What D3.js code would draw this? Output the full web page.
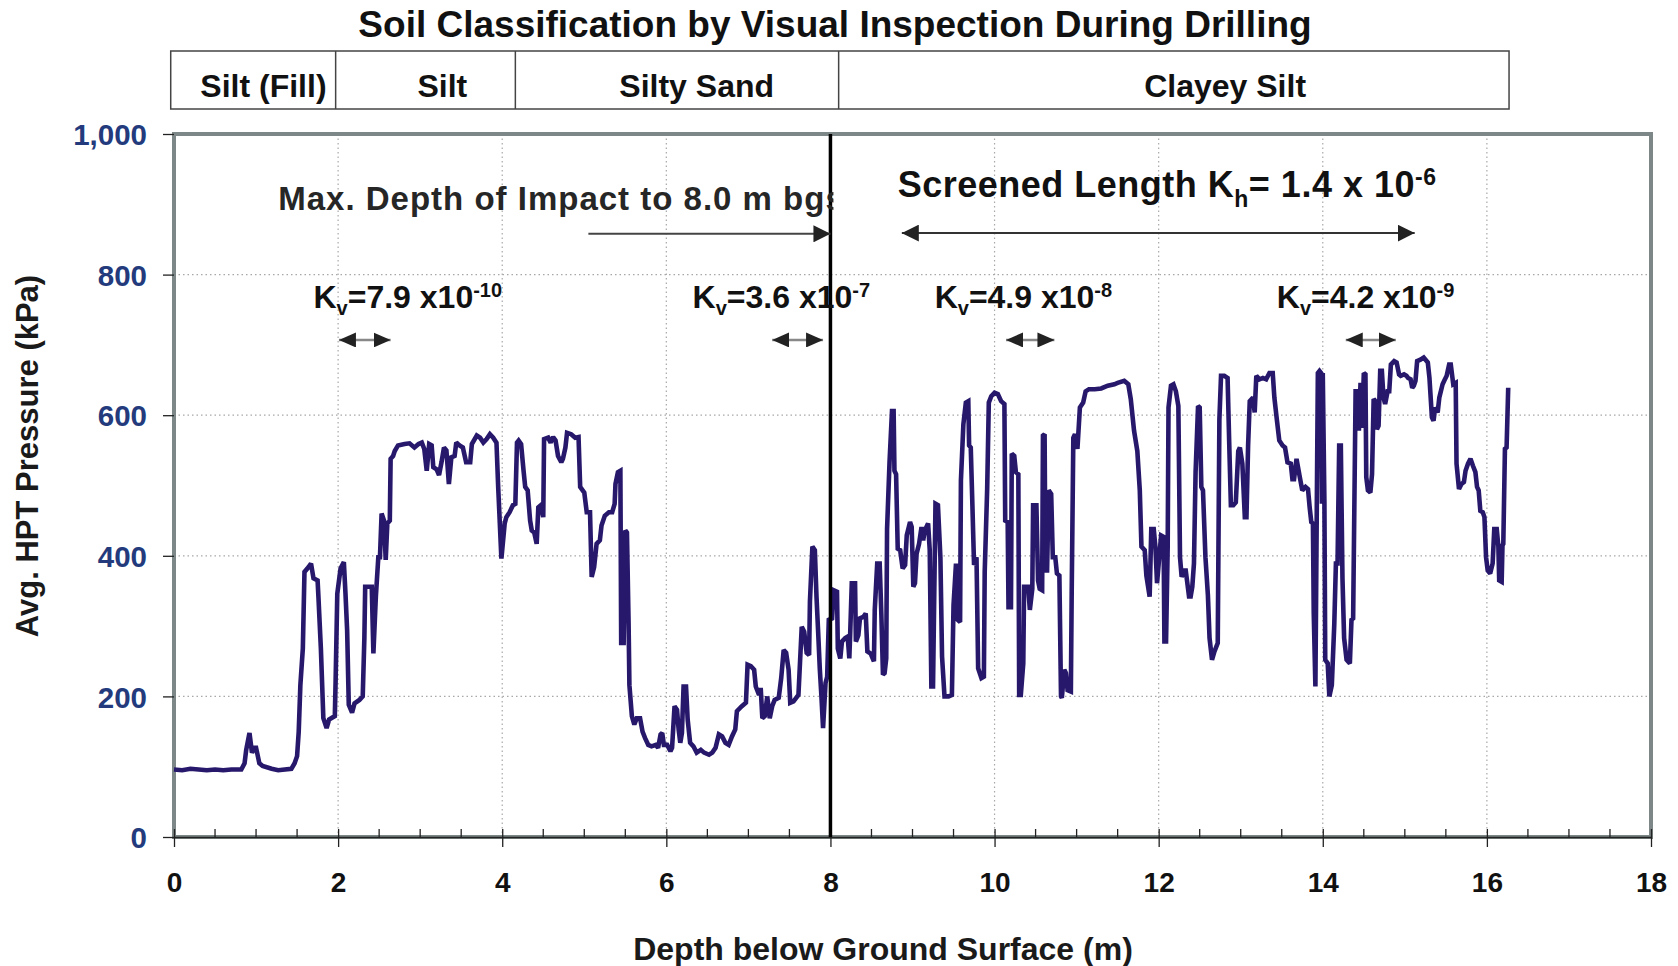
<!DOCTYPE html>
<html>
<head>
<meta charset="utf-8">
<script src="https://cdn.jsdelivr.net/npm/d3@7"></script>
<style>
  body { margin: 0; background: #fff; }
  text { font-family: "Liberation Sans", Arial, sans-serif; font-weight: bold; }
</style>
</head>
<body>
<div id="chart"></div>
<script>
// HPT log, depth (m) vs average pressure (kPa)
const depth = [
  0.00,0.10,0.20,0.30,0.40,0.50,0.60,0.70,0.82,0.86,0.88,0.92,0.95,0.98,1.00,1.04,1.08,1.19,1.27,1.43,
  1.47,1.50,1.52,1.54,1.57,1.59,1.64,1.67,1.70,1.75,1.76,1.79,1.82,1.86,1.89,1.96,1.97,1.99,2.03,2.07,
  2.09,2.11,2.13,2.17,2.20,2.26,2.30,2.32,2.33,2.41,2.43,2.46,2.49,2.51,2.53,2.56,2.58,2.60,2.63,2.64,
  2.67,2.69,2.73,2.81,2.87,2.93,2.98,3.02,3.05,3.08,3.11,3.14,3.16,3.20,3.23,3.26,3.29,3.32,3.35,3.38,
  3.42,3.44,3.48,3.52,3.56,3.61,3.63,3.69,3.73,3.77,3.81,3.85,3.89,3.93,3.95,3.99,4.03,4.05,4.09,4.13,
  4.16,4.18,4.20,4.23,4.26,4.28,4.31,4.34,4.36,4.39,4.42,4.44,4.47,4.50,4.51,4.56,4.59,4.62,4.65,4.68,
  4.72,4.74,4.77,4.79,4.84,4.89,4.93,4.95,5.00,5.03,5.07,5.09,5.12,5.15,5.19,5.21,5.25,5.30,5.34,5.37,
  5.38,5.41,5.44,5.45,5.48,5.50,5.52,5.54,5.55,5.58,5.61,5.64,5.68,5.71,5.74,5.78,5.82,5.87,5.90,5.93,
  5.95,5.97,6.01,6.05,6.07,6.10,6.13,6.15,6.17,6.19,6.21,6.24,6.26,6.29,6.33,6.37,6.42,6.46,6.52,6.56,
  6.60,6.64,6.68,6.72,6.76,6.80,6.84,6.86,6.92,6.97,6.99,7.03,7.07,7.09,7.13,7.15,7.17,7.20,7.23,7.26,
  7.29,7.32,7.37,7.40,7.43,7.46,7.49,7.51,7.55,7.61,7.65,7.68,7.71,7.74,7.75,7.78,7.81,7.83,7.85,7.87,
  7.89,7.91,7.94,7.96,7.98,8.02,8.04,8.08,8.09,8.12,8.14,8.18,8.21,8.23,8.24,8.26,8.30,8.31,8.34,8.36,
  8.40,8.43,8.45,8.49,8.53,8.54,8.57,8.60,8.62,8.64,8.66,8.68,8.69,8.72,8.75,8.77,8.78,8.80,8.82,8.85,
  8.88,8.91,8.93,8.97,8.99,9.01,9.03,9.05,9.08,9.11,9.13,9.15,9.19,9.21,9.23,9.25,9.28,9.31,9.34,9.36,
  9.39,9.44,9.48,9.50,9.53,9.55,9.58,9.59,9.62,9.65,9.68,9.69,9.71,9.73,9.75,9.78,9.80,9.84,9.87,9.88,
  9.91,9.93,9.96,10.00,10.04,10.08,10.12,10.13,10.16,10.17,10.20,10.21,10.24,10.26,10.29,10.30,10.32,10.35,10.36,10.41,
  10.43,10.46,10.47,10.51,10.53,10.55,10.58,10.59,10.61,10.62,10.64,10.66,10.69,10.71,10.74,10.76,10.79,10.81,10.82,10.85,
  10.87,10.89,10.93,10.94,10.96,10.98,11.01,11.04,11.08,11.11,11.15,11.22,11.30,11.38,11.46,11.50,11.58,11.63,11.66,11.70,
  11.74,11.77,11.79,11.83,11.85,11.89,11.91,11.94,11.96,11.98,12.03,12.06,12.07,12.09,12.11,12.12,12.15,12.18,12.21,12.24,
  12.26,12.28,12.31,12.33,12.37,12.39,12.41,12.43,12.45,12.48,12.50,12.52,12.54,12.57,12.60,12.62,12.65,12.68,12.72,12.74,
  12.76,12.80,12.84,12.86,12.88,12.91,12.94,12.97,12.99,13.02,13.05,13.07,13.09,13.11,13.15,13.17,13.19,13.23,13.27,13.31,
  13.35,13.39,13.41,13.44,13.47,13.51,13.54,13.57,13.61,13.63,13.65,13.68,13.72,13.75,13.79,13.82,13.84,13.86,13.88,13.89,
  13.91,13.94,13.96,13.98,13.99,14.00,14.02,14.03,14.06,14.08,14.11,14.14,14.16,14.18,14.20,14.22,14.24,14.26,14.29,14.33,
  14.35,14.37,14.40,14.43,14.44,14.46,14.48,14.50,14.52,14.53,14.55,14.58,14.60,14.62,14.64,14.66,14.68,14.70,14.72,14.74,
  14.76,14.79,14.81,14.83,14.87,14.90,14.93,14.95,14.99,15.02,15.04,15.07,15.09,15.11,15.13,15.15,15.19,15.23,15.28,15.30,
  15.33,15.35,15.37,15.40,15.42,15.46,15.48,15.51,15.54,15.56,15.59,15.62,15.63,15.66,15.69,15.72,15.74,15.77,15.80,15.83,
  15.86,15.88,15.90,15.92,15.95,15.97,15.99,16.01,16.04,16.07,16.09,16.12,16.14,16.15,16.18,16.19,16.20,16.22,16.24,16.26
];
const pressure = [
  96,95,97,96,95,96,95,96,96,105,124,148,120,127,127,105,101,97,95,97,
  105,115,150,216,268,377,384,389,368,365,342,268,169,155,167,172,224,346,382,391,
  346,294,188,177,190,195,200,283,356,356,261,342,398,398,460,450,394,446,450,538,
  542,549,557,559,560,554,559,561,552,521,559,557,526,523,515,533,554,550,502,540,
  542,561,557,554,533,533,559,571,568,561,566,573,568,561,500,396,446,455,462,472,
  474,561,564,559,521,498,493,450,436,433,417,469,472,455,566,568,561,569,564,542,
  533,538,554,575,573,568,569,498,490,462,462,370,384,417,422,443,457,462,462,474,
  502,519,521,276,276,436,433,304,216,172,160,169,169,150,141,131,129,131,127,146,
  148,131,131,122,127,186,181,153,134,148,214,214,167,134,129,120,124,120,117,120,
  127,146,143,134,131,143,153,179,186,191,245,243,238,214,202,212,169,172,200,169,
  186,195,198,226,266,262,238,191,193,202,299,292,262,259,335,413,408,342,292,240,
  200,155,219,228,309,311,351,349,268,254,278,283,285,254,287,361,361,278,287,311,
  313,318,264,261,250,323,389,389,318,231,233,254,438,533,606,606,521,516,410,408,
  382,387,429,448,441,356,361,403,417,441,422,436,446,408,214,214,474,472,398,257,
  200,200,202,330,389,309,306,507,587,618,620,557,554,472,387,398,240,226,228,377,
  495,618,627,632,630,620,616,450,448,327,327,545,542,519,516,202,202,247,356,356,
  323,353,472,472,365,353,351,571,573,379,379,493,488,398,398,375,372,200,198,238,
  233,209,207,346,568,573,552,611,618,634,637,637,638,642,644,646,649,644,623,578,
  549,493,413,408,372,342,438,438,413,361,429,427,278,278,413,611,642,644,634,613,
  398,370,379,379,342,342,356,389,519,613,611,498,493,398,344,283,252,264,276,594,
  656,656,653,559,472,472,476,549,554,531,455,455,557,620,625,604,656,651,653,651,
  660,660,625,594,564,557,554,533,531,509,509,538,512,493,498,495,469,448,446,318,
  214,660,663,660,474,660,476,252,247,200,216,302,389,389,557,557,368,283,252,247,
  309,311,634,634,578,646,582,660,658,512,493,490,516,623,620,580,585,663,663,625,
  616,634,634,672,677,675,658,656,658,656,653,651,639,642,649,677,679,682,675,653,
  597,592,611,604,625,644,649,656,672,672,644,646,531,495,502,505,521,531,538,528,
  519,498,493,464,462,455,398,379,375,389,438,438,413,365,363,415,417,552,554,639
];

const xTicks = [0, 2, 4, 6, 8, 10, 12, 14, 16, 18];
const yTicks = [0, 200, 400, 600, 800, 1000];

// soil log strip above the plot
const soilNames = ["Silt (Fill)", "Silt", "Silty Sand", "Clayey Silt"];
const soilBounds = [-0.04, 1.97, 4.16, 8.1, 16.27];
const soilLabelAt = [1.09, 3.27, 6.37, 12.81];

// Kv callouts
const kvValues = ["7.9 x10", "3.6 x10", "4.9 x10", "4.2 x10"];
const kvExps = ["-10", "-7", "-8", "-9"];
const kvTextAt = [1.70, 6.32, 9.27, 13.44];
const kvFrom = [2.01, 7.29, 10.14, 14.28];
const kvTo = [2.64, 7.91, 10.73, 14.89];

const impactDepth = 8.0;
const screenFrom = 8.87, screenTo = 15.12;

const W = 1678, H = 966;
const margin = {top: 134, right: 27, bottom: 129, left: 174};

const x = d3.scaleLinear().domain([0, 18]).range([margin.left, W - margin.right]);
const y = d3.scaleLinear().domain([0, 1000]).range([H - margin.bottom, margin.top]);

const svg = d3.select("#chart").append("svg")
    .attr("width", W)
    .attr("height", H);

const defs = svg.append("defs");
defs.append("marker")
    .attr("id", "head")
    .attr("viewBox", "0 0 17 17")
    .attr("refX", 17).attr("refY", 8.5)
    .attr("markerWidth", 17).attr("markerHeight", 17)
    .attr("markerUnits", "userSpaceOnUse")
    .attr("orient", "auto-start-reverse")
  .append("path")
    .attr("d", "M0,0L17,8.5L0,17Z")
    .attr("fill", "#222");
defs.append("marker")
    .attr("id", "headSmall")
    .attr("viewBox", "0 0 17 15")
    .attr("refX", 17).attr("refY", 7.5)
    .attr("markerWidth", 17).attr("markerHeight", 15)
    .attr("markerUnits", "userSpaceOnUse")
    .attr("orient", "auto-start-reverse")
  .append("path")
    .attr("d", "M0,0L17,7.5L0,15Z")
    .attr("fill", "#222");
defs.append("clipPath").attr("id", "impactClip")
  .append("rect")
    .attr("x", margin.left).attr("y", margin.top)
    .attr("width", x(impactDepth) + 3 - margin.left)
    .attr("height", y(0) - margin.top);

// title
svg.append("text")
    .attr("x", 835).attr("y", 37)
    .attr("text-anchor", "middle")
    .attr("font-size", 37)
    .attr("fill", "#111")
    .text("Soil Classification by Visual Inspection During Drilling");

// soil strip
const strip = svg.append("g");
strip.append("rect")
    .attr("x", x(soilBounds[0])).attr("y", 51)
    .attr("width", x(soilBounds[soilBounds.length - 1]) - x(soilBounds[0]))
    .attr("height", 58)
    .attr("fill", "none").attr("stroke", "#444").attr("stroke-width", 1.5);
strip.selectAll("line.div")
  .data(soilBounds.slice(1, -1))
  .enter().append("line")
    .attr("x1", d => x(d)).attr("x2", d => x(d))
    .attr("y1", 51).attr("y2", 109)
    .attr("stroke", "#444").attr("stroke-width", 1.5);
strip.selectAll("text")
  .data(soilNames)
  .enter().append("text")
    .attr("x", (d, i) => x(soilLabelAt[i]))
    .attr("y", 97)
    .attr("text-anchor", "middle")
    .attr("font-size", 32)
    .attr("fill", "#111")
    .text(d => d);

// grid
const grid = svg.append("g").attr("stroke", "#a8a8a8").attr("stroke-width", 1.2)
    .attr("stroke-dasharray", "1.5 3");
grid.selectAll("line.h")
  .data(yTicks.slice(1, -1))
  .enter().append("line")
    .attr("x1", margin.left).attr("x2", W - margin.right)
    .attr("y1", d => y(d)).attr("y2", d => y(d));
grid.selectAll("line.v")
  .data(xTicks.slice(1, -1))
  .enter().append("line")
    .attr("y1", margin.top).attr("y2", y(0))
    .attr("x1", d => x(d)).attr("x2", d => x(d));

// frame
svg.append("rect")
    .attr("x", margin.left).attr("y", margin.top)
    .attr("width", W - margin.right - margin.left)
    .attr("height", y(0) - margin.top)
    .attr("fill", "none")
    .attr("stroke", "#7d8787")
    .attr("stroke-width", 4);

// minor x ticks
svg.append("g").selectAll("line")
  .data(d3.range(0.5, 18, 0.5).filter(d => d % 2 !== 0))
  .enter().append("line")
    .attr("x1", d => x(d)).attr("x2", d => x(d))
    .attr("y1", y(0) - 8).attr("y2", y(0))
    .attr("stroke", "#222").attr("stroke-width", 1.3);

// x axis
const xAxis = svg.append("g")
    .attr("transform", `translate(0,${y(0)})`)
    .call(d3.axisBottom(x).tickValues(xTicks).tickSize(10).tickSizeOuter(0));
xAxis.select(".domain").attr("stroke", "#222").attr("stroke-width", 1.5);
xAxis.selectAll(".tick line").attr("y1", -8).attr("stroke", "#222").attr("stroke-width", 1.3);
xAxis.selectAll(".tick text")
    .attr("y", 55).attr("dy", null)
    .attr("font-size", 28)
    .attr("font-family", null)
    .attr("fill", "#111");

// y axis
const yAxis = svg.append("g")
    .attr("transform", `translate(${margin.left},0)`)
    .call(d3.axisLeft(y).tickValues(yTicks).tickSize(11).tickPadding(16).tickFormat(d3.format(",")));
yAxis.select(".domain").remove();
yAxis.selectAll(".tick line").attr("stroke", "#222").attr("stroke-width", 1.3);
yAxis.selectAll(".tick text")
    .attr("font-size", 29.5)
    .attr("font-family", null)
    .attr("dy", "0.36em")
    .attr("fill", "#233b7c");

// axis titles
svg.append("text")
    .attr("x", 883).attr("y", 960)
    .attr("text-anchor", "middle")
    .attr("font-size", 32)
    .attr("fill", "#1a1a1a")
    .text("Depth below Ground Surface (m)");
svg.append("text")
    .attr("transform", "translate(38,456) rotate(-90)")
    .attr("text-anchor", "middle")
    .attr("font-size", 31)
    .attr("fill", "#1a1a1a")
    .text("Avg. HPT Pressure (kPa)");

// HPT trace
const line = d3.line()
    .x(d => x(d[0]))
    .y(d => y(d[1]));
svg.append("path")
    .datum(d3.zip(depth, pressure))
    .attr("d", line)
    .attr("fill", "none")
    .attr("stroke", "#28186c")
    .attr("stroke-width", 4.6)
    .attr("stroke-linejoin", "miter")
    .attr("stroke-miterlimit", 2);

// max depth of impact
svg.append("line")
    .attr("x1", x(impactDepth)).attr("x2", x(impactDepth))
    .attr("y1", y(1000)).attr("y2", y(0))
    .attr("stroke", "#000").attr("stroke-width", 3.5);
svg.append("text")
    .attr("clip-path", "url(#impactClip)")
    .attr("x", x(1.27)).attr("y", y(892))
    .attr("font-size", 33)
    .attr("letter-spacing", 1)
    .attr("fill", "#262626")
    .text("Max. Depth of Impact to 8.0 m bgs");
svg.append("line")
    .attr("x1", x(5.05)).attr("x2", x(impactDepth))
    .attr("y1", y(858)).attr("y2", y(858))
    .attr("stroke", "#444").attr("stroke-width", 2)
    .attr("marker-end", "url(#head)");

// screened length
const scr = svg.append("text")
    .attr("x", x(8.82)).attr("y", y(911))
    .attr("font-size", 36)
    .attr("letter-spacing", 0.5)
    .attr("fill", "#111");
scr.append("tspan").text("Screened Length K");
scr.append("tspan").attr("font-size", 23).attr("dy", 10).text("h");
scr.append("tspan").attr("dy", -10).text("= 1.4 x 10");
scr.append("tspan").attr("font-size", 23).attr("dy", -12).text("-6");
svg.append("line")
    .attr("x1", x(screenFrom)).attr("x2", x(screenTo))
    .attr("y1", y(859)).attr("y2", y(859))
    .attr("stroke", "#333").attr("stroke-width", 2)
    .attr("marker-start", "url(#head)")
    .attr("marker-end", "url(#head)");

// Kv labels and arrows
const kv = svg.append("g");
kvValues.forEach((v, i) => {
  const t = kv.append("text")
      .attr("x", x(kvTextAt[i])).attr("y", y(752))
      .attr("font-size", 32)
      .attr("fill", "#111");
  t.append("tspan").text("K");
  t.append("tspan").attr("font-size", 20).attr("dy", 7).text("v");
  t.append("tspan").attr("dy", -7).text("=" + v);
  t.append("tspan").attr("font-size", 20).attr("dy", -11).text(kvExps[i]);
});
kv.selectAll("line")
  .data(kvFrom)
  .enter().append("line")
    .attr("x1", d => x(d)).attr("x2", (d, i) => x(kvTo[i]))
    .attr("y1", y(707)).attr("y2", y(707))
    .attr("stroke", "#888").attr("stroke-width", 2.5)
    .attr("marker-start", "url(#headSmall)")
    .attr("marker-end", "url(#headSmall)");
</script>
</body>
</html>
